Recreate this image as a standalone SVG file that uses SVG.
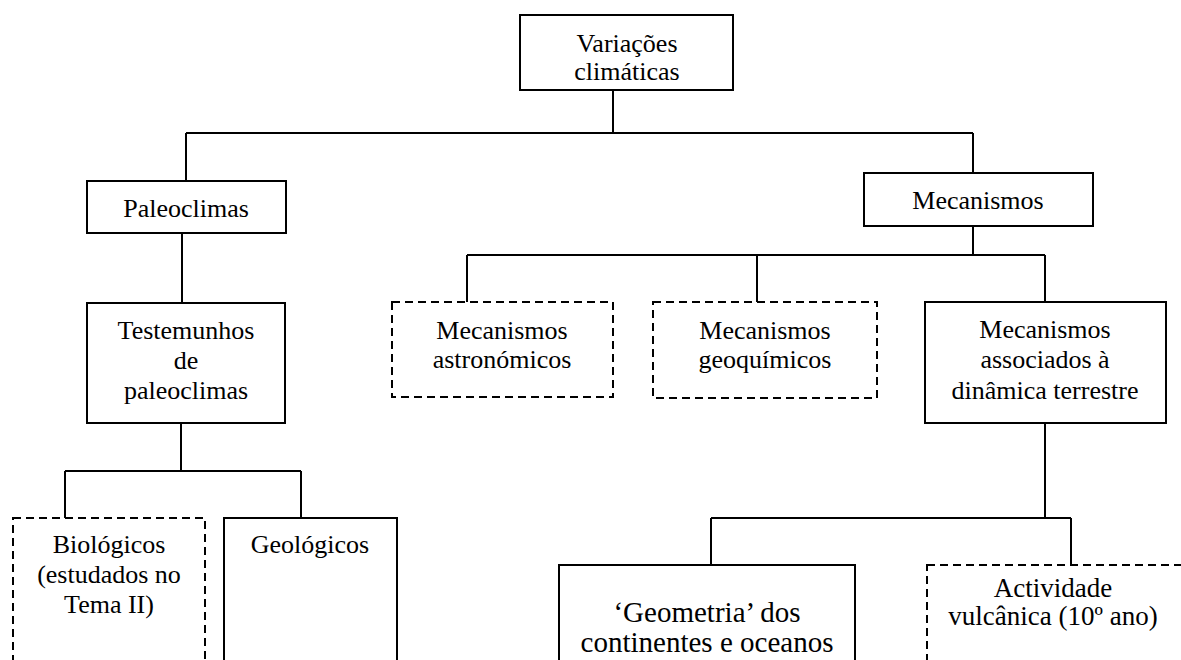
<svg xmlns="http://www.w3.org/2000/svg" width="1181" height="660" viewBox="0 0 1181 660">
<style>
.box{fill:#fff;stroke:#000;stroke-width:2}
.dash{fill:#fff;stroke:#000;stroke-width:2;stroke-dasharray:8 5}
.ln{fill:none;stroke:#000;stroke-width:2}
text{font-family:"Liberation Serif","Times New Roman",serif;font-size:26px;fill:#000;text-anchor:middle}
.big{font-size:29px}
.mid{font-size:27px}
</style>
<rect width="1181" height="660" fill="#fff"/>
<g id="connectors">
<path class="ln" d="M613 90V133M186 133H973M186 133V181M973 133V173"/>
<path class="ln" d="M182 233V303M181 423V471M65 471H301M65 471V518M301 471V518"/>
<path class="ln" d="M973 226V255M467 255H1045M467 255V302M757 255V302M1045 255V302"/>
<path class="ln" d="M1045 423V518M711 518H1071M711 518V565M1071 518V565"/>
</g>
<g id="n-variacoes"><rect class="box" x="520" y="15" width="213" height="75"/><text x="627" y="52">Variações</text><text x="627" y="80">climáticas</text></g>
<g id="n-paleoclimas"><rect class="box" x="87" y="181" width="199" height="52"/><text x="186" y="217">Paleoclimas</text></g>
<g id="n-mecanismos"><rect class="box" x="864" y="173" width="229" height="53"/><text x="978" y="209">Mecanismos</text></g>
<g id="n-testemunhos"><rect class="box" x="87" y="303" width="198" height="120"/><text x="186" y="339">Testemunhos</text><text x="186" y="369">de</text><text x="186" y="399">paleoclimas</text></g>
<g id="n-astronomicos"><rect class="dash" x="392" y="302" width="221" height="95"/><text x="502" y="339">Mecanismos</text><text x="502" y="368">astronómicos</text></g>
<g id="n-geoquimicos"><rect class="dash" x="653" y="302" width="224" height="96"/><text x="765" y="339">Mecanismos</text><text x="765" y="368">geoquímicos</text></g>
<g id="n-dinamica"><rect class="box" x="925" y="302" width="241" height="121"/><text x="1045" y="338">Mecanismos</text><text x="1045" y="368">associados à</text><text x="1045" y="399">dinâmica terrestre</text></g>
<g id="n-biologicos"><rect class="dash" x="13" y="518" width="192" height="160"/><text x="109" y="553">Biológicos</text><text x="109" y="583">(estudados no</text><text x="109" y="613">Tema II)</text></g>
<g id="n-geologicos"><rect class="box" x="224" y="518" width="173" height="160"/><text x="310" y="553">Geológicos</text></g>
<g id="n-geometria"><rect class="box" x="559" y="565" width="296" height="120"/><text class="big" x="707" y="622">‘Geometria’ dos</text><text class="big" x="707" y="652">continentes e oceanos</text></g>
<g id="n-vulcanica"><rect class="dash" x="927" y="565" width="260" height="120"/><text class="mid" x="1053" y="597">Actividade</text><text class="mid" x="1053" y="625">vulcânica (10º ano)</text></g>
</svg>
